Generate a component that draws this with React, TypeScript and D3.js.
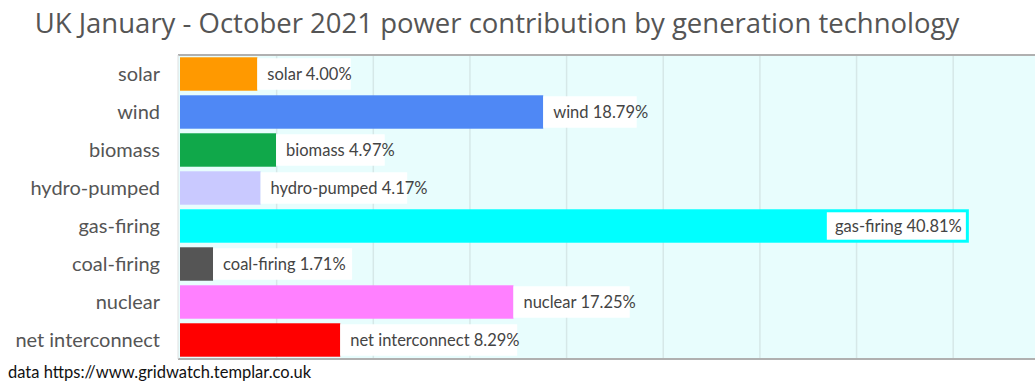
import React from "react";
import * as d3 from "d3";

const categories = ["solar", "wind", "biomass", "hydro-pumped", "gas-firing", "coal-firing", "nuclear", "net interconnect"];
const shares = [4.0, 18.79, 4.97, 4.17, 40.81, 1.71, 17.25, 8.29];
const barColors = ["#ff9900", "#4f88f5", "#10a84a", "#c9c9ff", "#00ffff", "#555555", "#ff80ff", "#ff0000"];
const gridTicks = [5, 10, 15, 20, 25, 30, 35, 40, 45];
const titleText = "UK January - October 2021 power contribution by generation technology";
const sourceText = "data https://www.gridwatch.templar.co.uk";

const W = 1035;
const H = 382;
const FONT = "Lato, 'Open Sans', sans-serif";

export default function App() {
  const x = d3.scaleLinear().domain([0, 45]).range([180, 180 + 45 * 19.33]);
  const y = d3.scaleBand<string>().domain(categories).range([55, 359]).paddingInner(0.12).paddingOuter(0.06);
  const bw = y.bandwidth();
  const lf = 16.5;

  return (
    <svg width={W} height={H} style={{ position: "absolute", left: 0, top: 0, background: "#fff" }} fontFamily={FONT}>
      <text x={497} y={33} textAnchor="middle" fontSize={27.5} fill="#555" fontFamily="'Open Sans', sans-serif">{titleText}</text>
      <rect x={x(0) - 2} y={55} width={W - x(0) + 2} height={304} fill="#e8fdfd" />
      {gridTicks.map((t) => (
        <line key={t} x1={x(t)} x2={x(t)} y1={56} y2={358} stroke="#d6e8e8" strokeWidth={1.5} />
      ))}
      <line x1={x(0) - 2} x2={W} y1={55} y2={55} stroke="#b0b0b0" strokeWidth={2} />
      <line x1={x(0) - 2} x2={W} y1={359} y2={359} stroke="#b0b0b0" strokeWidth={2} />
      <line x1={x(0) - 2} x2={x(0) - 2} y1={55} y2={359} stroke="#e0e0e0" strokeWidth={1} />
      {categories.map((c, i) => {
        const y0 = y(c) as number;
        const xe = x(shares[i]);
        const label = `${c} ${shares[i].toFixed(2)}%`;
        const inside = shares[i] > 30;
        const labelW = label.length * lf * 0.46 + 10;
        const boxX = inside ? xe - labelW - 3 : xe;
        return (
          <g key={c}>
            <rect x={x(0)} y={y0} width={xe - x(0)} height={bw} fill={barColors[i]} />
            <rect x={boxX} y={y0 + (inside ? 3 : 1)} width={labelW} height={bw - (inside ? 6 : 2)} fill="#fff" />
            <text x={inside ? xe - 7 : xe + 10} y={y0 + bw / 2 + 5.5} textAnchor={inside ? "end" : "start"} fontSize={lf} fill="#444">{label}</text>
            <text x={160} y={y0 + bw / 2 + 7} textAnchor="end" fontSize={20} fill="#555">{c}</text>
          </g>
        );
      })}
      <text x={8} y={378} fontSize={16.5} fill="#111">{sourceText}</text>
    </svg>
  );
}
